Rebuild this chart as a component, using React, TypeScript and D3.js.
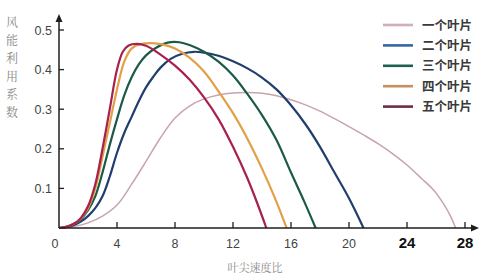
import React from "react";
import * as d3 from "d3";

const W = 493;
const H = 277;

const seriesNames = ["一个叶片", "二个叶片", "三个叶片", "四个叶片", "五个叶片"];
const seriesColors = ["#c9a3ad", "#213f6c", "#1b5a47", "#e2a046", "#a8214c"];
const legendColors = ["#cfb0b8", "#3566a0", "#1f5f52", "#c8915c", "#6e2b47"];

const oneBlade: [number, number][] = [
  [0, 0], [1, 0.004], [2, 0.013], [3, 0.03], [4, 0.058], [5, 0.11], [6, 0.168], [7, 0.228],
  [8, 0.278], [9, 0.308], [10, 0.326], [11, 0.336], [12, 0.341], [13, 0.342], [14, 0.34],
  [15, 0.334], [16, 0.324], [17, 0.311], [18, 0.295], [19, 0.276], [20, 0.256], [21, 0.235],
  [22, 0.213], [23, 0.188], [24, 0.159], [25, 0.125], [25.8, 0.097], [26.5, 0.062],
  [27, 0.03], [27.35, 0],
];
const twoBlade: [number, number][] = [
  [0, 0], [0.5, 0.002], [1, 0.007], [1.5, 0.016], [2, 0.03], [2.5, 0.05], [3, 0.08],
  [3.5, 0.13], [4, 0.19], [4.5, 0.24], [5, 0.28], [5.5, 0.32], [6, 0.355], [6.5, 0.382],
  [7, 0.405], [7.7, 0.427], [8.5, 0.44], [9.3, 0.445], [10, 0.443], [11, 0.435], [12, 0.421],
  [13, 0.403], [14, 0.38], [15, 0.35], [16, 0.31], [17, 0.262], [18, 0.205], [19, 0.14],
  [20, 0.075], [21, 0],
];
const threeBlade: [number, number][] = [
  [0, 0], [0.5, 0.003], [1, 0.01], [1.5, 0.022], [2, 0.045], [2.5, 0.08], [3, 0.14],
  [3.5, 0.21], [4, 0.275], [4.5, 0.335], [5, 0.38], [5.5, 0.413], [6, 0.436], [6.7, 0.455],
  [7.5, 0.468], [8.3, 0.469], [9, 0.462], [10, 0.445], [11, 0.42], [12, 0.385], [13, 0.338],
  [14, 0.285], [15, 0.222], [16, 0.14], [16.9, 0.068], [17.7, 0],
];
const fourBlade: [number, number][] = [
  [0, 0], [0.5, 0.003], [1, 0.01], [1.5, 0.024], [2, 0.05], [2.5, 0.1], [3, 0.18],
  [3.5, 0.265], [4, 0.35], [4.5, 0.42], [5, 0.453], [5.6, 0.464], [6.4, 0.467], [7.2, 0.463],
  [8, 0.453], [9, 0.43], [10, 0.395], [11, 0.345], [12, 0.29], [13, 0.225], [14, 0.15],
  [14.9, 0.075], [15.7, 0],
];
const fiveBlade: [number, number][] = [
  [0, 0], [0.5, 0.003], [1, 0.01], [1.5, 0.025], [2, 0.055], [2.5, 0.11], [3, 0.2],
  [3.5, 0.3], [4, 0.4], [4.4, 0.445], [4.8, 0.461], [5.4, 0.465], [6, 0.46], [7, 0.438],
  [8, 0.41], [9, 0.375], [10, 0.33], [11, 0.275], [12, 0.205], [13, 0.125], [13.7, 0.06],
  [14.3, 0],
];
const seriesData = [oneBlade, twoBlade, threeBlade, fourBlade, fiveBlade];

const xTicks = [0, 4, 8, 12, 16, 20, 24, 28];
const xTickLabels = ["0", "4", "8", "12", "16", "20", "24", "28"];
const boldXTicks = [24, 28];
const yTicks = [0.1, 0.2, 0.3, 0.4, 0.5];
const yTickLabels = ["0.1", "0.2", "0.3", "0.4", "0.5"];
const yTitleChars = ["风", "能", "利", "用", "系", "数"];
const xTitle = "叶尖速度比";

export default function App() {
  const x = d3.scaleLinear().domain([0, 28]).range([59, 465]);
  const y = d3.scaleLinear().domain([0, 0.5]).range([228, 30]);
  const line = d3
    .line<[number, number]>()
    .x((d) => x(d[0]))
    .y((d) => y(d[1]))
    .curve(d3.curveCatmullRom.alpha(0.5));

  const x0 = x(0);
  const y0 = y(0);
  const axisColor = "#1e1e1e";
  const sans = "'Liberation Sans', Arial, sans-serif";
  const serifCjk = "'Noto Serif CJK SC', 'Noto Sans CJK SC', serif";

  return (
    <div style={{ position: "fixed", left: 0, top: 0, width: W, height: H, background: "#fff" }}>
      <svg width={W} height={H} style={{ display: "block" }}>
        <rect width={W} height={H} fill="#fff" />
        {seriesData.map((d, i) => (
          <path
            key={i}
            d={line(d) || ""}
            fill="none"
            stroke={seriesColors[i]}
            strokeWidth={i === 0 ? 1.5 : 2.2}
            strokeLinejoin="round"
          />
        ))}
        <line x1={x0} y1={y0} x2={473} y2={y0} stroke={axisColor} strokeWidth={1.5} />
        <path d={`M${479},${y0} L${471},${y0 - 3.5} L${471},${y0 + 3.5} Z`} fill={axisColor} />
        <line x1={x0} y1={y0} x2={x0} y2={22} stroke={axisColor} strokeWidth={1.5} />
        <path d={`M${x0},${14} L${x0 - 3.5},${22} L${x0 + 3.5},${22} Z`} fill={axisColor} />
        {xTicks.map((t, i) => (
          <g key={t}>
            {t !== 0 && (
              <line x1={x(t)} y1={y0} x2={x(t)} y2={y0 - 6} stroke={axisColor} strokeWidth={1.3} />
            )}
            <text
              x={t === 0 ? x(t) - 4 : x(t)}
              y={248}
              textAnchor="middle"
              fontFamily={sans}
              fontSize={boldXTicks.includes(t) ? 15 : 12.5}
              fontWeight={boldXTicks.includes(t) ? "bold" : "normal"}
              fill={boldXTicks.includes(t) ? "#111" : "#444"}
            >
              {xTickLabels[i]}
            </text>
          </g>
        ))}
        {yTicks.map((t, i) => (
          <g key={t}>
            <line x1={x0} y1={y(t)} x2={x0 + 5} y2={y(t)} stroke={axisColor} strokeWidth={1.3} />
            <text
              x={52}
              y={y(t) + 4.5}
              textAnchor="end"
              fontFamily={sans}
              fontSize={12.5}
              fill="#444"
            >
              {yTickLabels[i]}
            </text>
          </g>
        ))}
        {yTitleChars.map((c, i) => (
          <text
            key={c}
            x={12}
            y={27 + i * 18}
            textAnchor="middle"
            fontFamily={serifCjk}
            fontSize={12}
            fill="#888"
          >
            {c}
          </text>
        ))}
        <text
          x={255}
          y={272}
          textAnchor="middle"
          fontFamily={serifCjk}
          fontSize={11}
          fill="#888"
        >
          {xTitle}
        </text>
        {seriesNames.map((name, i) => {
          const ly = 25 + i * 20.4;
          return (
            <g key={name}>
              <line x1={383} y1={ly} x2={413} y2={ly} stroke={legendColors[i]} strokeWidth={2.6} />
              <text
                x={422}
                y={ly + 4.5}
                fontFamily="'Noto Sans CJK SC', sans-serif"
                fontSize={12.5}
                fontWeight="bold"
                fill="#3a3a3a"
              >
                {name}
              </text>
            </g>
          );
        })}
      </svg>
    </div>
  );
}
